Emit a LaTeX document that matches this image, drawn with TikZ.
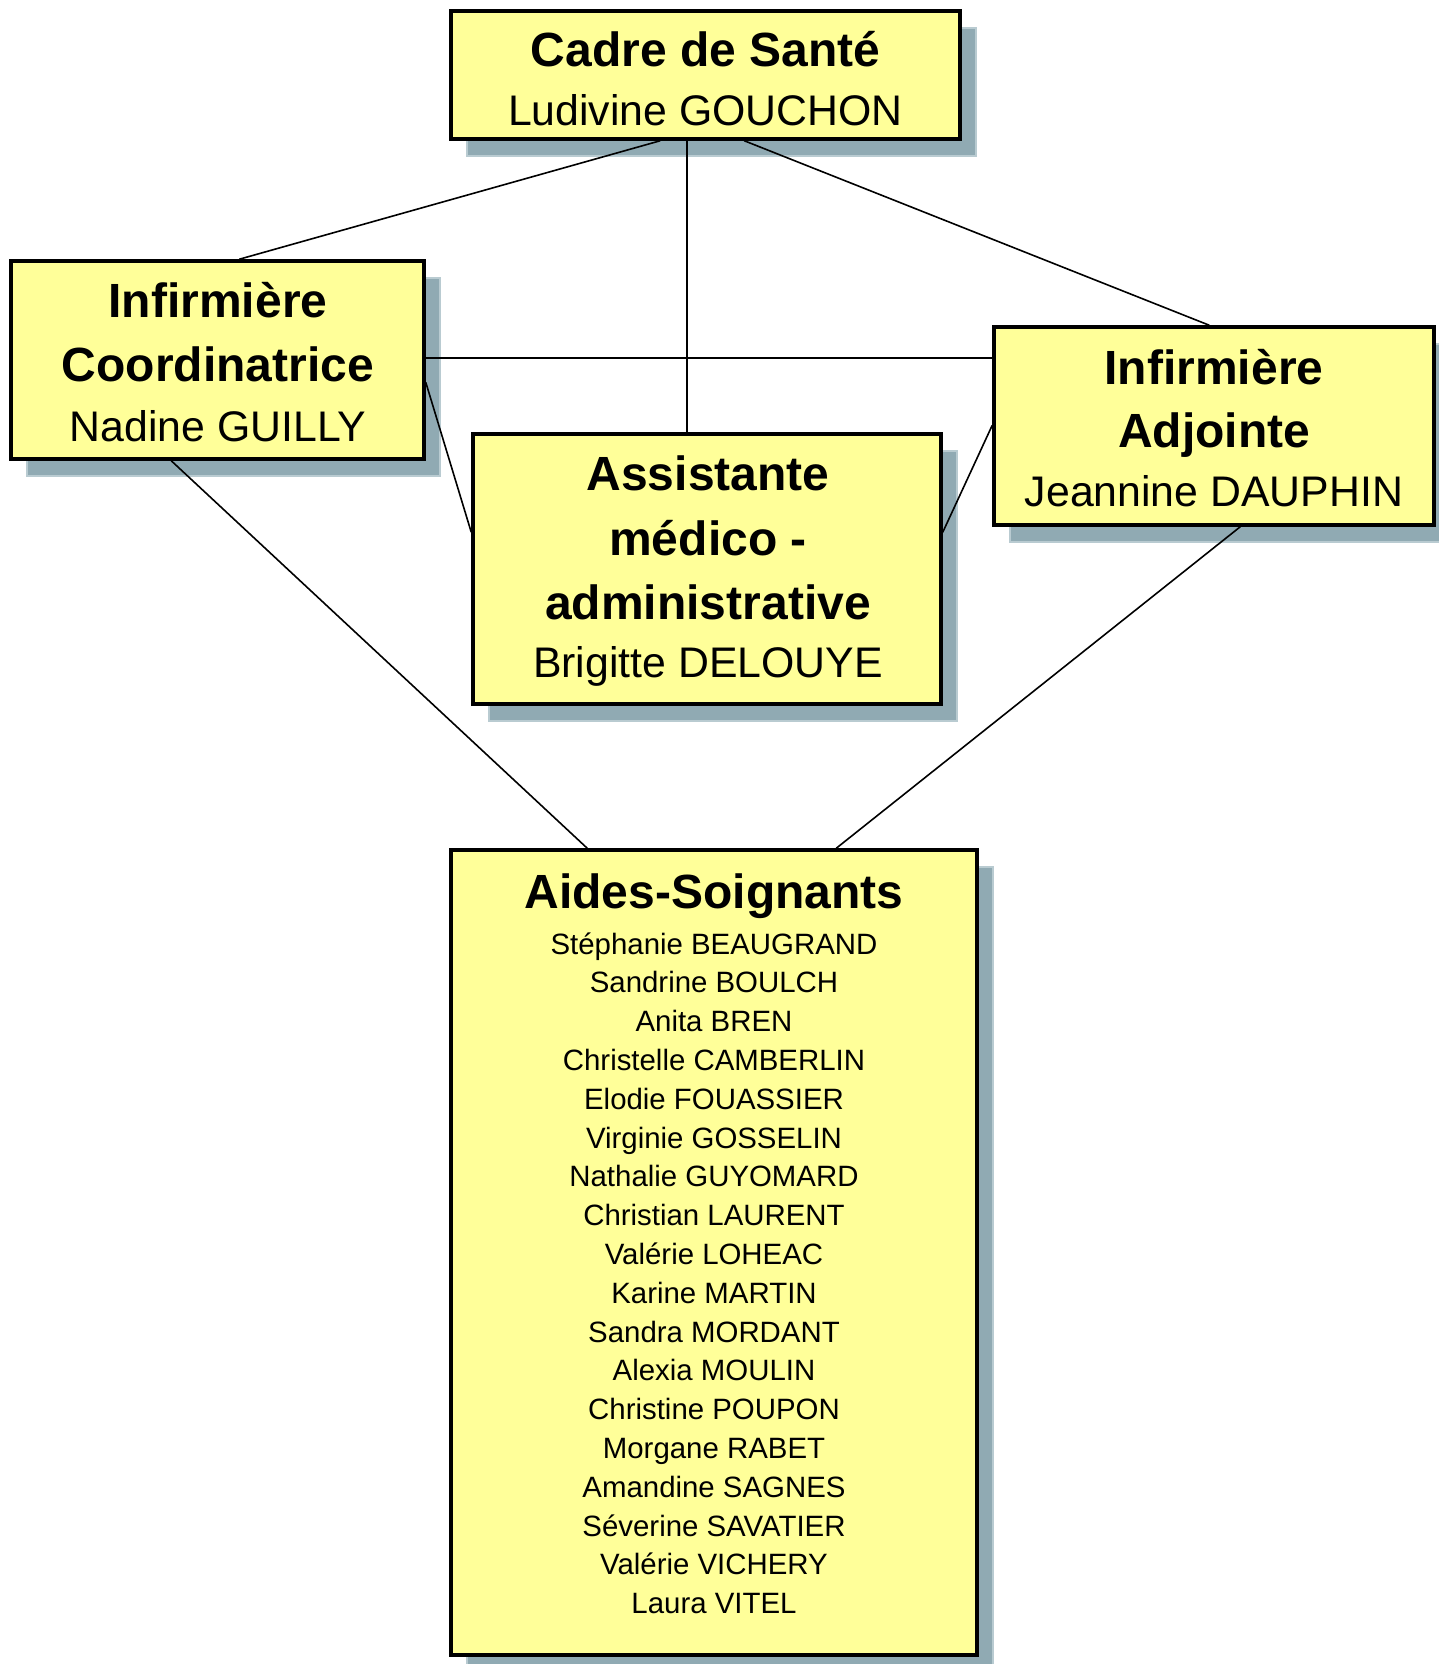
\documentclass[tikz,border=0pt]{standalone}
\usepackage{fontspec}
\setmainfont{Liberation Sans}
\usetikzlibrary{calc,shadows}
\definecolor{boxfill}{HTML}{FFFF99}
\definecolor{shadowc}{HTML}{90AAB3}
\definecolor{shadowedge}{HTML}{B9CBD1}
\tikzset{
  orgbox/.style={draw=black, line width=3.5pt, fill=boxfill, rectangle, inner sep=0pt,
    drop shadow={shadow xshift=16pt, shadow yshift=-17pt, fill=shadowc, draw=shadowedge, line width=1.2pt, opacity=1}},
  ttl/.style={anchor=base, inner sep=0pt, font=\fontsize{48}{56}\selectfont\bfseries},
  nm/.style={anchor=base, inner sep=0pt, font=\fontsize{42.8}{50}\selectfont},
  lst/.style={anchor=base, inner sep=0pt, font=\fontsize{29.4}{35}\selectfont},
  link/.style={draw=black, line width=1.6pt}
}
\begin{document}
\begin{tikzpicture}[x=1pt,y=-1pt]
\useasboundingbox (0,0) rectangle (1439,1664);
% boxes
\node[orgbox, minimum width=509pt, minimum height=128pt] (cadre) at (705.5,75) {};
\node[orgbox, minimum width=413pt, minimum height=198pt] (coord) at (217.5,360) {};
\node[orgbox, minimum width=440pt, minimum height=198pt] (adj) at (1214,426) {};
\node[orgbox, minimum width=468pt, minimum height=270pt] (assist) at (707,569) {};
\node[orgbox, minimum width=526pt, minimum height=805pt] (aides) at (714,1252.5) {};
% connectors
\draw[link] ($(cadre.south west)+(211,0)$) -- ($(coord.north west)+(230,0)$);
\draw[link] ($(cadre.south west)+(238,0)$) -- ($(assist.north west)+(216,0)$);
\draw[link] ($(cadre.south west)+(295,0)$) -- ($(adj.north west)+(217,0)$);
\draw[link] ($(coord.north east)+(0,99)$) -- ($(adj.north west)+(0,33)$);
\draw[link] ($(coord.north east)+(0,123)$) -- ($(assist.north west)+(0,100)$);
\draw[link] ($(adj.north west)+(0,100)$) -- ($(assist.north east)+(0,100)$);
\draw[link] ($(coord.south west)+(162,0)$) -- ($(aides.north west)+(138,0)$);
\draw[link] ($(adj.south west)+(248,0)$) -- ($(aides.north west)+(387,0)$);
% texts
\node[ttl] (t1) at (705.5,67) {Cadre de Santé};
\node[nm] (n1) at (705.5,126) {Ludivine GOUCHON};
\node[ttl] (t2a) at (218,317) {Infirmière};
\node[ttl] (t2b) at (218,381) {Coordinatrice};
\node[nm] (n2) at (218,441) {Nadine GUILLY};
\node[ttl] (t3a) at (1214,384) {Infirmière};
\node[ttl] (t3b) at (1214,447) {Adjointe};
\node[nm] (n3) at (1214,506) {Jeannine DAUPHIN};
\node[ttl] (t4a) at (708,490) {Assistante};
\node[ttl] (t4b) at (708,555) {médico -};
\node[ttl] (t4c) at (708,619) {administrative};
\node[nm] (n4) at (708,677) {Brigitte DELOUYE};
\node[ttl] (t5) at (714,908) {Aides-Soignants};
\foreach \nom [count=\i from 0] in {Stéphanie BEAUGRAND, Sandrine BOULCH, Anita BREN, Christelle CAMBERLIN, Elodie FOUASSIER, Virginie GOSSELIN, Nathalie GUYOMARD, Christian LAURENT, Valérie LOHEAC, Karine MARTIN, Sandra MORDANT, Alexia MOULIN, Christine POUPON, Morgane RABET, Amandine SAGNES, Séverine SAVATIER, Valérie VICHERY, Laura VITEL}
  \node[lst] (l\i) at (714,{954+38.8*\i}) {\nom};
\end{tikzpicture}
\end{document}
